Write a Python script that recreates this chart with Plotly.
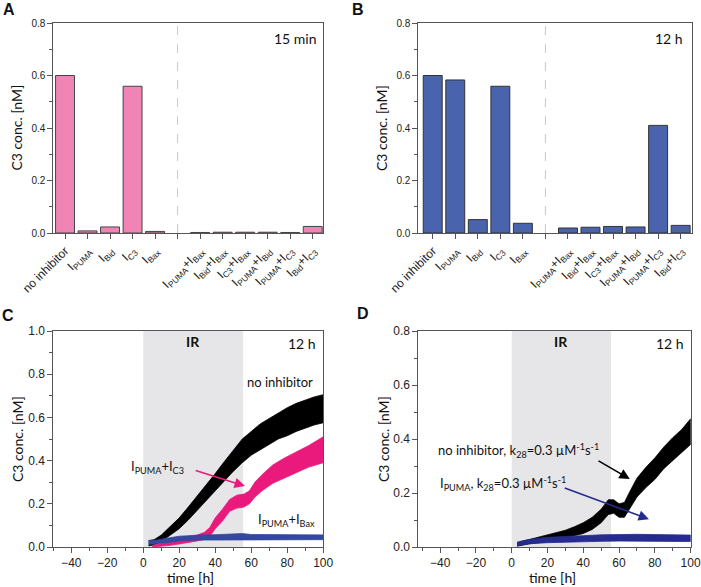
import plotly.graph_objects as go

# ---------------- data ----------------
categories = ["no inhibitor", "I<sub>PUMA</sub>", "I<sub>Bid</sub>", "I<sub>C3</sub>", "I<sub>Bax</sub>", " ",
              "I<sub>PUMA</sub>+I<sub>Bax</sub>", "I<sub>Bid</sub>+I<sub>Bax</sub>", "I<sub>C3</sub>+I<sub>Bax</sub>",
              "I<sub>PUMA</sub>+I<sub>Bid</sub>", "I<sub>PUMA</sub>+I<sub>C3</sub>", "I<sub>Bid</sub>+I<sub>C3</sub>"]
c3_15min = [0.600, 0.008, 0.023, 0.559, 0.006, None, 0.002, 0.003, 0.003, 0.003, 0.002, 0.025]
c3_12h = [0.600, 0.583, 0.051, 0.559, 0.037, None, 0.019, 0.022, 0.025, 0.023, 0.410, 0.029]

# panel C: noisy trajectories given as lower / upper envelopes
tC_black = [3, 6, 10, 15, 20, 25, 30, 35, 40, 45, 50, 55, 60, 65, 70, 75, 80, 85, 90, 95, 100]
loC_black = [0.005, 0.010, 0.025, 0.055, 0.085, 0.125, 0.165, 0.215, 0.26, 0.305, 0.35, 0.39, 0.425, 0.45,
             0.475, 0.50, 0.515, 0.535, 0.55, 0.565, 0.575]
hiC_black = [0.030, 0.034, 0.055, 0.095, 0.135, 0.185, 0.235, 0.285, 0.34, 0.395, 0.45, 0.50, 0.535, 0.57,
             0.595, 0.62, 0.645, 0.665, 0.68, 0.695, 0.705]

tC_pink = [5, 10, 15, 20, 25, 30, 34, 37, 40, 44, 48, 52, 56, 59, 62, 66, 72, 78, 85, 92, 100]
loC_pink = [0.000, 0.003, 0.008, 0.014, 0.020, 0.028, 0.035, 0.05, 0.085, 0.12, 0.165, 0.18, 0.185, 0.20,
            0.23, 0.26, 0.295, 0.32, 0.345, 0.37, 0.39]
hiC_pink = [0.008, 0.015, 0.024, 0.034, 0.042, 0.055, 0.068, 0.09, 0.135, 0.175, 0.22, 0.24, 0.245, 0.26,
            0.30, 0.335, 0.38, 0.41, 0.44, 0.47, 0.51]

tC_blue = [3, 6, 10, 15, 20, 25, 30, 40, 50, 55, 60, 70, 80, 90, 100]
loC_blue = [0.012, 0.012, 0.018, 0.022, 0.028, 0.030, 0.032, 0.033, 0.034, 0.035, 0.034, 0.034, 0.034, 0.034, 0.034]
hiC_blue = [0.030, 0.030, 0.036, 0.042, 0.050, 0.052, 0.055, 0.057, 0.058, 0.062, 0.058, 0.057, 0.057, 0.056, 0.056]

# panel D
tD_black = [3, 6, 10, 15, 20, 25, 30, 35, 40, 45, 50, 54, 57, 60, 63, 66, 70, 75, 80, 85, 90, 95, 100]
loD_black = [0.003, 0.008, 0.012, 0.016, 0.022, 0.028, 0.035, 0.042, 0.05, 0.065, 0.09, 0.12, 0.125, 0.11,
             0.11, 0.14, 0.185, 0.22, 0.25, 0.29, 0.32, 0.35, 0.38]
hiD_black = [0.015, 0.022, 0.028, 0.036, 0.044, 0.052, 0.062, 0.075, 0.09, 0.11, 0.14, 0.175, 0.175, 0.16,
             0.165, 0.205, 0.255, 0.295, 0.33, 0.37, 0.405, 0.435, 0.475]

tD_blue = [3, 6, 10, 20, 30, 40, 50, 60, 70, 80, 90, 100]
loD_blue = [0.005, 0.008, 0.012, 0.016, 0.018, 0.020, 0.021, 0.022, 0.022, 0.022, 0.021, 0.020]
hiD_blue = [0.018, 0.022, 0.028, 0.036, 0.040, 0.042, 0.045, 0.047, 0.047, 0.046, 0.045, 0.044]

ir_start, ir_end = 0, 55.5

# ---------------- styling ----------------
W, H = 701, 587
TICKFONT = "Liberation Sans, Arial, sans-serif"
TEXTFONT = "Lato, Calibri, sans-serif"
AXC = "#555555"
PINK_BAR = "#F085B5"
BLUE_BAR = "#4A63AD"
BLACK = "#000000"
PINK = "#EA1A7D"
BLUE_C = "#3548A0"
BLUE_D = "#262C8F"


def px_dom(a, b, total):
    return [a / total, b / total]


def py_dom(top, bottom):
    return [1 - bottom / H, 1 - top / H]


fig = go.Figure()

# bars A and B
fig.add_trace(go.Bar(x=categories, y=c3_15min, marker=dict(color=PINK_BAR, line=dict(color="#444", width=1)),
                     width=0.84, xaxis="x", yaxis="y", showlegend=False))
fig.add_trace(go.Bar(x=categories, y=c3_12h, marker=dict(color=BLUE_BAR, line=dict(color="#333", width=1)),
                     width=0.84, xaxis="x2", yaxis="y2", showlegend=False))


def band(t, lo, hi, color, xa, ya):
    xs = list(t) + list(t)[::-1]
    ys = list(hi) + list(lo)[::-1]
    fig.add_trace(go.Scatter(x=xs, y=ys, fill="toself", fillcolor=color, mode="lines",
                             line=dict(color=color, width=0.8), xaxis=xa, yaxis=ya, showlegend=False,
                             hoverinfo="skip"))


band(tC_black, loC_black, hiC_black, BLACK, "x3", "y3")
band(tC_pink, loC_pink, hiC_pink, PINK, "x3", "y3")
band(tC_blue, loC_blue, hiC_blue, BLUE_C, "x3", "y3")
band(tD_black, loD_black, hiD_black, BLACK, "x4", "y4")
band(tD_blue, loD_blue, hiD_blue, BLUE_D, "x4", "y4")

common_axis = dict(showline=True, linecolor=AXC, linewidth=1, mirror=True, ticks="outside", ticklen=5,
                   tickcolor=AXC, showgrid=False, zeroline=False, automargin=False)

bar_y = dict(common_axis, range=[0, 0.8], dtick=0.2, tickformat=".1f",
             tickfont=dict(family=TICKFONT, size=10, color="#222"),
             minor=dict(ticks="outside", ticklen=3, dtick=0.1, tickcolor=AXC))
bar_x = dict(common_axis, type="category", tickangle=-45,
             tickfont=dict(family=TICKFONT, size=12, color="#222"))

ts_x = dict(common_axis, dtick=20, tickfont=dict(family=TICKFONT, size=12, color="#222"),
            minor=dict(ticks="outside", ticklen=3, dtick=10, tickcolor=AXC))
ts_y = dict(common_axis, dtick=0.2, tickformat=".1f", tickfont=dict(family=TICKFONT, size=12, color="#222"),
            minor=dict(ticks="outside", ticklen=3, dtick=0.1, tickcolor=AXC))

fig.update_layout(
    width=W, height=H, margin=dict(l=0, r=0, t=0, b=0, autoexpand=False),
    paper_bgcolor="white", plot_bgcolor="white", bargap=0.16,
    xaxis=dict(bar_x, domain=px_dom(53.3, 323.3, W), range=[-0.52, 11.47], anchor="y"),
    yaxis=dict(bar_y, domain=py_dom(23, 233), anchor="x"),
    xaxis2=dict(bar_x, domain=px_dom(418.3, 691.7, W), range=[-0.64, 11.49], anchor="y2"),
    yaxis2=dict(bar_y, domain=py_dom(23, 233), anchor="x2"),
    xaxis3=dict(ts_x, domain=px_dom(53.3, 323.3, W), range=[-50, 100.05], anchor="y3"),
    yaxis3=dict(ts_y, domain=py_dom(331, 547), range=[0, 1.0], anchor="x3"),
    xaxis4=dict(ts_x, domain=px_dom(418.3, 690.7, W), range=[-52.2, 100.05], anchor="y4"),
    yaxis4=dict(ts_y, domain=py_dom(331, 547), range=[0, 0.8], anchor="x4"),
)

shapes = [
    dict(type="line", xref="x", yref="y domain", x0=5, x1=5, y0=0, y1=1,
         line=dict(color="#C8C8C8", width=1, dash="dash"), layer="below"),
    dict(type="line", xref="x2", yref="y2 domain", x0=5, x1=5, y0=0, y1=1,
         line=dict(color="#C8C8C8", width=1, dash="dash"), layer="below"),
    dict(type="rect", xref="x3", yref="y3 domain", x0=ir_start, x1=ir_end, y0=0, y1=1,
         fillcolor="#E6E6E9", line=dict(width=0), layer="below"),
    dict(type="rect", xref="x4", yref="y4 domain", x0=ir_start, x1=ir_end, y0=0, y1=1,
         fillcolor="#E6E6E9", line=dict(width=0), layer="below"),
]
fig.update_layout(shapes=shapes)

ann = []


def ptext(text, x, y, size=13, bold=False, angle=0, family=TEXTFONT, color="#111"):
    t = f"<b>{text}</b>" if bold else text
    ann.append(dict(text=t, x=x / W, y=1 - y / H, xref="paper", yref="paper", showarrow=False,
                    textangle=angle, font=dict(family=family, size=size, color=color),
                    xanchor="center", yanchor="middle"))


def dtext(text, x, y, xa, ya, size=13, bold=False, color="#111"):
    t = f"<b>{text}</b>" if bold else text
    ann.append(dict(text=t, x=x, y=y, xref=xa, yref=ya, showarrow=False,
                    font=dict(family=TEXTFONT, size=size, color=color), xanchor="center", yanchor="middle"))


def arrow(x0, y0, x1, y1, xa, ya, color):
    ann.append(dict(text="", x=x1, y=y1, ax=x0, ay=y0, xref=xa, yref=ya, axref=xa, ayref=ya,
                    showarrow=True, arrowhead=2, arrowsize=1.3, arrowwidth=1.6, arrowcolor=color))


# panel letters
ptext("A", 9, 9, size=16, bold=True, family="Liberation Sans, Arial")
ptext("B", 358, 9, size=16, bold=True, family="Liberation Sans, Arial")
ptext("C", 8, 315, size=16, bold=True, family="Liberation Sans, Arial")
ptext("D", 363, 313, size=16, bold=True, family="Liberation Sans, Arial")

# axis titles
ptext("C3 conc. [nM]", 16.5, 128, size=14, angle=-90)
ptext("C3 conc. [nM]", 382, 128, size=14, angle=-90)
ptext("C3 conc. [nM]", 17, 439, size=14, angle=-90)
ptext("C3 conc. [nM]", 383, 439, size=14, angle=-90)
ptext("time [h]", 190, 577, size=14)
ptext("time [h]", 552, 577, size=14)

# panel labels
ptext("15 min", 295, 38, size=14)
ptext("12 h", 669, 38, size=14)

dtext("IR", 27.5, 0.95, "x3", "y3", size=14, bold=True)
dtext("12 h", 88, 0.94, "x3", "y3", size=14)
dtext("no inhibitor", 76, 0.765, "x3", "y3", size=13)
dtext("I<sub>PUMA</sub>+I<sub>C3</sub>", 8, 0.37, "x3", "y3", size=13)
dtext("I<sub>PUMA</sub>+I<sub>Bax</sub>", 79.5, 0.125, "x3", "y3", size=13)
arrow(28.3, 0.356, 56.5, 0.282, "x3", "y3", PINK)

dtext("IR", 27.5, 0.76, "x4", "y4", size=14, bold=True)
dtext("12 h", 88.4, 0.755, "x4", "y4", size=14)
dtext("no inhibitor, k<sub>28</sub>=0.3 µM<sup>-1</sup>s<sup>-1</sup>", 4, 0.356, "x4", "y4", size=13)
dtext("I<sub>PUMA</sub>, k<sub>28</sub>=0.3 µM<sup>-1</sup>s<sup>-1</sup>", -5, 0.235, "x4", "y4", size=13)
arrow(47.7, 0.322, 66, 0.252, "x4", "y4", BLACK)
arrow(28.8, 0.221, 76.7, 0.103, "x4", "y4", BLUE_D)

fig.update_layout(annotations=ann)

fig.write_html("out.html", config={"displayModeBar": False},
               post_script="document.body.style.margin='0';document.body.style.padding='0';")
